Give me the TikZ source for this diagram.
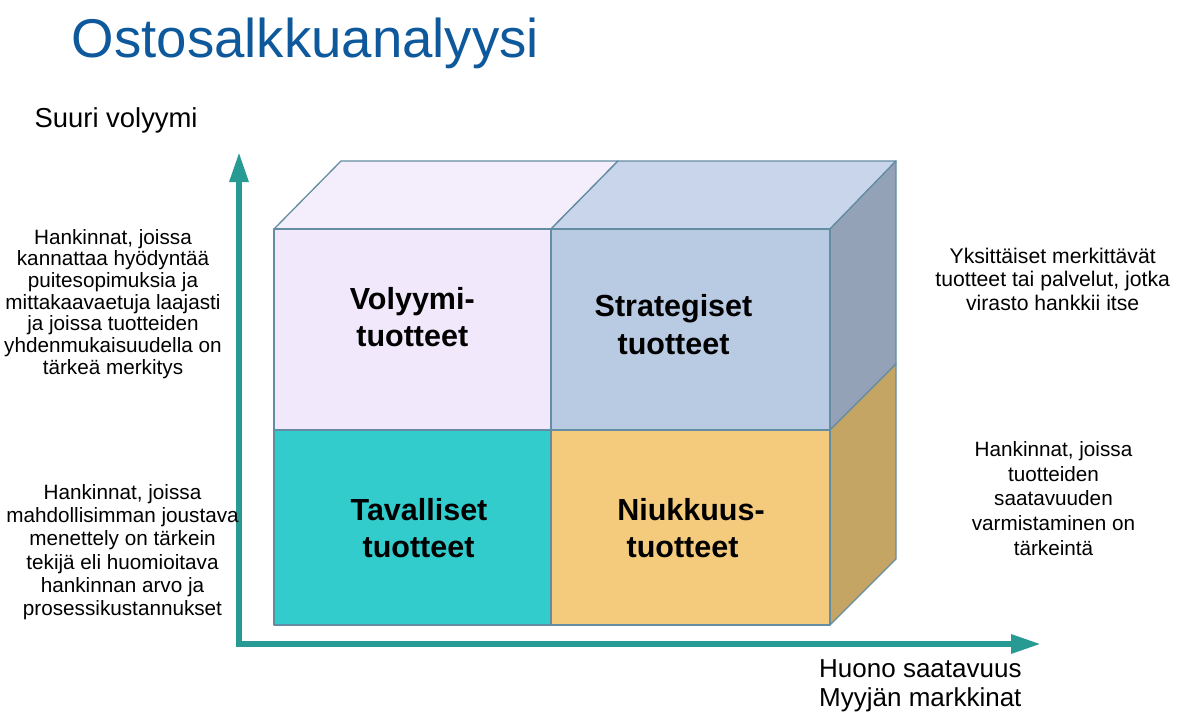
\documentclass[tikz,border=0pt]{standalone}
\usepackage{fontspec}
\setmainfont{Liberation Sans}
\usetikzlibrary{arrows.meta}
\definecolor{titleblue}{RGB}{14,88,156}
\definecolor{axisteal}{RGB}{40,154,148}
\definecolor{edgec}{RGB}{100,140,162}
\definecolor{lavtop}{HTML}{F4EEFC}
\definecolor{lavfront}{HTML}{F1E9FB}
\definecolor{bluetop}{HTML}{C8D5EA}
\definecolor{bluefront}{HTML}{B9CAE3}
\definecolor{blueside}{HTML}{94A2B8}
\definecolor{tealfront}{HTML}{33CCCC}
\definecolor{goldfront}{HTML}{F4CB7C}
\definecolor{goldside}{HTML}{C4A564}
\begin{document}
\begin{tikzpicture}[x=1pt,y=-1pt,
  face/.style={draw=edgec, line width=1.3pt, line join=round},
  axis/.style={draw=axisteal, line width=6pt, -{Triangle[length=30pt,width=18pt]}},
  note/.style={font=\fontsize{20.7}{22}\selectfont, anchor=base, inner sep=0pt},
  cell/.style={font=\fontsize{30.5}{36}\selectfont\bfseries, anchor=base, inner sep=0pt},
  axlabel/.style={anchor=base west, inner sep=0pt}]
\useasboundingbox (0,0) rectangle (1189,717);

% title
\node[axlabel, text=titleblue, font=\fontsize{54.6}{60}\selectfont] (title) at (71.5,58) {Ostosalkkuanalyysi};

% axes
\coordinate (O) at (239,644);
\coordinate (Obot) at (239,647);
\coordinate (Ytip) at (239,152);
\coordinate (Xtip) at (1041,644);
\draw[axis] (Obot) -- (Ytip);
\draw[axis] (O) -- (Xtip);

% cube coordinates
\coordinate (FTL) at (274,229); \coordinate (FTM) at (551,229); \coordinate (FTR) at (830,229);
\coordinate (FML) at (274,430); \coordinate (FMM) at (551,430); \coordinate (FMR) at (830,430);
\coordinate (FBL) at (274,625); \coordinate (FBM) at (551,625); \coordinate (FBR) at (830,625);
\coordinate (BTL) at (341,161); \coordinate (BTM) at (618,161); \coordinate (BTR) at (896,161);
\coordinate (BMR) at (896,364); \coordinate (BBR) at (896,559);

% faces
\draw[face, fill=lavtop] (FTL) -- (FTM) -- (BTM) -- (BTL) -- cycle;
\draw[face, fill=bluetop] (FTM) -- (FTR) -- (BTR) -- (BTM) -- cycle;
\draw[face, fill=blueside] (FTR) -- (BTR) -- (BMR) -- (FMR) -- cycle;
\draw[face, fill=goldside] (FMR) -- (BMR) -- (BBR) -- (FBR) -- cycle;
\draw[face, fill=lavfront] (FTL) rectangle (FMM);
\draw[face, fill=bluefront] (FTM) rectangle (FMR);
\draw[face, fill=tealfront] (FML) rectangle (FBM);
\draw[face, fill=goldfront] (FMM) rectangle (FBR);

% cell labels
\node[cell] (vol1) at (412.3,309.3) {Volyymi-};
\node[cell] (vol2) at (412.3,346) {tuotteet};
\node[cell] (str1) at (673.5,316.7) {Strategiset};
\node[cell] (str2) at (673.5,354) {tuotteet};
\node[cell] (tav1) at (419,520.7) {Tavalliset};
\node[cell] (tav2) at (418.5,557.3) {tuotteet};
\node[cell] (niu1) at (691,520.7) {Niukkuus-};
\node[cell] (niu2) at (682.5,557.3) {tuotteet};

% axis labels
\node[axlabel, font=\fontsize{27.4}{32}\selectfont] (ylab) at (34.5,127.7) {Suuri volyymi};
\node[axlabel, font=\fontsize{26}{31}\selectfont] (xlab1) at (819,677.3) {Huono saatavuus};
\node[axlabel, font=\fontsize{26}{31}\selectfont] (xlab2) at (819,706.7) {Myyjän markkinat};

% side notes
\foreach \t [count=\i] in {{Hankinnat, joissa},{kannattaa hyödyntää},{puitesopimuksia ja},{mittakaavaetuja laajasti},{ja joissa tuotteiden},{yhdenmukaisuudella on},{tärkeä merkitys}}
  \node[note] (nA\i) at (113,{244+21.7*(\i-1)}) {\t};
\foreach \t [count=\i] in {{Hankinnat, joissa},{mahdollisimman joustava},{menettely on tärkein},{tekijä eli huomioitava},{hankinnan arvo ja},{prosessikustannukset}}
  \node[note] (nB\i) at (122.5,{499.3+23.3*(\i-1)}) {\t};
\foreach \t [count=\i] in {{Yksittäiset merkittävät},{tuotteet tai palvelut, jotka},{virasto hankkii itse}}
  \node[note, font=\fontsize{21.2}{23}\selectfont] (nC\i) at (1052.7,{263.3+23.4*(\i-1)}) {\t};
\foreach \t [count=\i] in {{Hankinnat, joissa},{tuotteiden},{saatavuuden},{varmistaminen on},{tärkeintä}}
  \node[note] (nD\i) at (1053.5,{456.7+24.6*(\i-1)}) {\t};
\end{tikzpicture}
\end{document}
